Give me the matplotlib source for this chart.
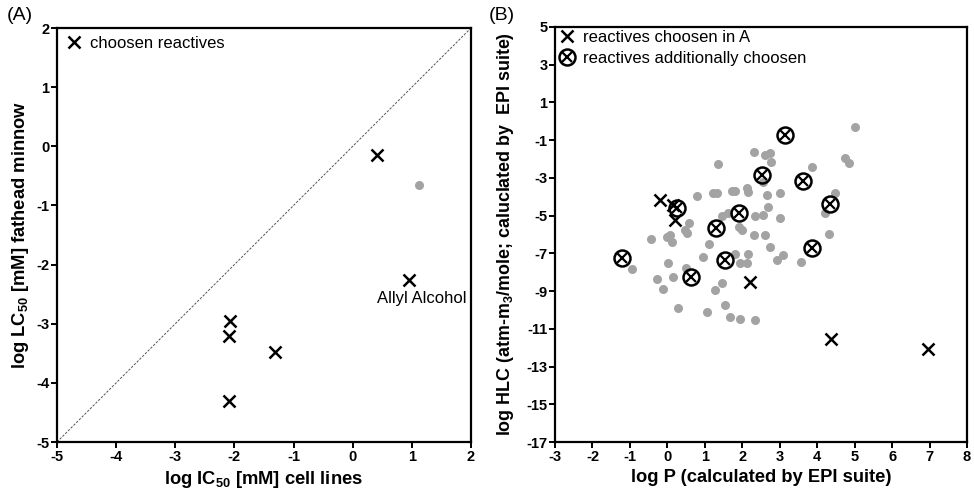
import matplotlib
matplotlib.use("Agg")
import matplotlib.pyplot as plt
from matplotlib.lines import Line2D

plt.rcParams['font.family'] = ['Liberation Sans', 'DejaVu Sans']
plt.rcParams['mathtext.fontset'] = 'custom'
plt.rcParams['mathtext.rm'] = 'Liberation Sans:bold'
plt.rcParams['mathtext.default'] = 'rm'
plt.rcParams['axes.unicode_minus'] = False

# ---- Panel A data ----
a_chosen_x = [0.41, 0.96, -2.07, -2.09, -1.31, -2.09]
a_chosen_y = [-0.15, -2.26, -2.96, -3.21, -3.47, -4.31]
a_other_x = [1.12]
a_other_y = [-0.66]
a_label_text = "Allyl Alcohol"
a_label_pos = (1.16, -2.57)

# ---- Panel B data ----
b_chosenA_x = [-0.20, 0.20, 0.15, 2.21, 4.36, 6.97]
b_chosenA_y = [-4.17, -5.23, -4.45, -8.50, -11.56, -12.09]
b_add_x = [3.14, 2.54, 3.61, 4.34, 0.27, 1.92, 1.29, 3.87, -1.22, 1.54, 0.62]
b_add_y = [-0.73, -2.85, -3.15, -4.40, -4.58, -4.85, -5.67, -6.73, -7.27, -7.35, -8.24]
b_other_x = [2.30, 2.61, 2.74, 2.76, 1.36, 3.85, 4.74, 4.86, 5.01, 0.78, 1.23, 1.32,
             1.72, 1.81, 2.12, 2.16, 2.65, 3.01, 4.48, 2.70, 2.34, 2.56, 3.01, 1.45,
             1.63, 0.59, 0.47, 0.53, -0.44, -0.02, 0.07, 0.12, 1.11, 1.92, 1.98, 2.30,
             2.61, 2.74, 3.08, 2.92, 3.57, 4.32, 4.22, 1.81, 2.16, 1.94, 2.12, 0.96,
             -0.95, 0.03, -0.27, 0.16, 0.50, -0.11, 1.45, 1.27, 0.28, 1.05, 1.54, 1.67,
             1.94, 2.34, 2.56]
b_other_y = [-1.61, -1.79, -1.70, -2.14, -2.26, -2.44, -1.96, -2.19, -0.29, -3.96, -3.82, -3.82,
             -3.68, -3.68, -3.55, -3.73, -3.91, -3.78, -3.78, -4.56, -5.02, -4.97, -5.14, -5.02,
             -4.88, -5.41, -5.76, -5.94, -6.26, -6.12, -6.03, -6.38, -6.51, -5.59, -5.76, -6.03,
             -6.03, -6.65, -7.09, -7.35, -7.48, -5.98, -4.88, -7.04, -7.04, -7.53, -7.53, -7.18,
             -7.85, -7.53, -8.38, -8.24, -7.80, -8.91, -8.56, -8.95, -9.92, -10.10, -9.74, -10.39,
             -10.50, -10.54, -3.20]

a_ticks = [-5, -4, -3, -2, -1, 0, 1, 2]
b_xticks = [-3, -2, -1, 0, 1, 2, 3, 4, 5, 6, 7, 8]
b_yticks = [5, 3, 1, -1, -3, -5, -7, -9, -11, -13, -15, -17]

GRAY = '#a3a3a3'
LABEL_FS = 13.2
TICK_FS = 10.5
LEG_FS = 12

fig = plt.figure(figsize=(9.74, 4.96), dpi=100)
axA = fig.add_axes([57/974, 54/496, 414/974, 414/496])
axB = fig.add_axes([555/974, 54/496, 412/974, 415/496])

def style(ax):
    for s in ax.spines.values():
        s.set_linewidth(1.6)
    ax.tick_params(direction='out', length=4, width=1.4, labelsize=TICK_FS, pad=1.5)
    for lab in ax.get_xticklabels() + ax.get_yticklabels():
        lab.set_fontweight('bold')

# Panel A
axA.plot([-5, 2], [-5, 2], ls=(0, (2.5, 1.5)), color='#555555', lw=0.7)
axA.plot(a_other_x, a_other_y, 'o', color=GRAY, ms=6.5, mec='none')
axA.plot(a_chosen_x, a_chosen_y, 'x', color='black', ms=8.5, mew=1.8, ls='none',
         label='choosen reactives')
axA.text(a_label_pos[0], a_label_pos[1], a_label_text, ha='center', va='center', fontsize=12)
axA.set_xlim(-5, 2)
axA.set_ylim(-5, 2)
axA.set_xticks(a_ticks)
axA.set_yticks(a_ticks)
axA.set_xlabel('log IC$_{50}$ [mM] cell lines', fontsize=LABEL_FS, fontweight='bold', labelpad=4)
axA.set_ylabel('log LC$_{50}$ [mM] fathead minnow', fontsize=LABEL_FS, fontweight='bold', labelpad=4)
style(axA)
axA.legend(loc='upper left', frameon=False, fontsize=LEG_FS, handletextpad=0.5,
           borderaxespad=0.1, handlelength=1.0, borderpad=0.4)

# Panel B
axB.plot(b_other_x, b_other_y, 'o', color=GRAY, ms=6.5, mec='none', ls='none')
axB.plot(b_chosenA_x, b_chosenA_y, 'x', color='black', ms=8.5, mew=1.8, ls='none')
axB.plot(b_add_x, b_add_y, 'o', mfc='none', mec='black', ms=11.5, mew=1.8, ls='none')
axB.plot(b_add_x, b_add_y, 'x', color='black', ms=6.5, mew=1.6, ls='none')
h1 = Line2D([], [], marker='x', color='black', ms=8.5, mew=1.8, ls='none')
h2a = Line2D([], [], marker='o', mfc='none', mec='black', ms=11.5, mew=1.8, ls='none')
h2b = Line2D([], [], marker='x', color='black', ms=6.5, mew=1.6, ls='none')
axB.legend([h1, (h2a, h2b)], ['reactives choosen in A', 'reactives additionally choosen'],
           loc='upper left', frameon=False, fontsize=LEG_FS, handletextpad=0.5,
           borderaxespad=0.0, handlelength=1.0, borderpad=0.2, labelspacing=0.35)
axB.set_xlim(-3, 8)
axB.set_ylim(-17, 5)
axB.set_xticks(b_xticks)
axB.set_yticks(b_yticks)
axB.set_xlabel('log P (calculated by EPI suite)', fontsize=LABEL_FS, fontweight='bold', labelpad=4)
axB.set_ylabel('log HLC (atm-m$_{3}$/mole; caluclated by  EPI suite)', fontsize=12.9,
               fontweight='bold', labelpad=3)
axB.yaxis.set_label_coords(-0.095, 0.5)
style(axB)

fig.text(7/974, 1 - 16/496, '(A)', fontsize=14, va='center', ha='left')
fig.text(489/974, 1 - 15/496, '(B)', fontsize=14, va='center', ha='left')

fig.savefig('out.png', dpi=100)
